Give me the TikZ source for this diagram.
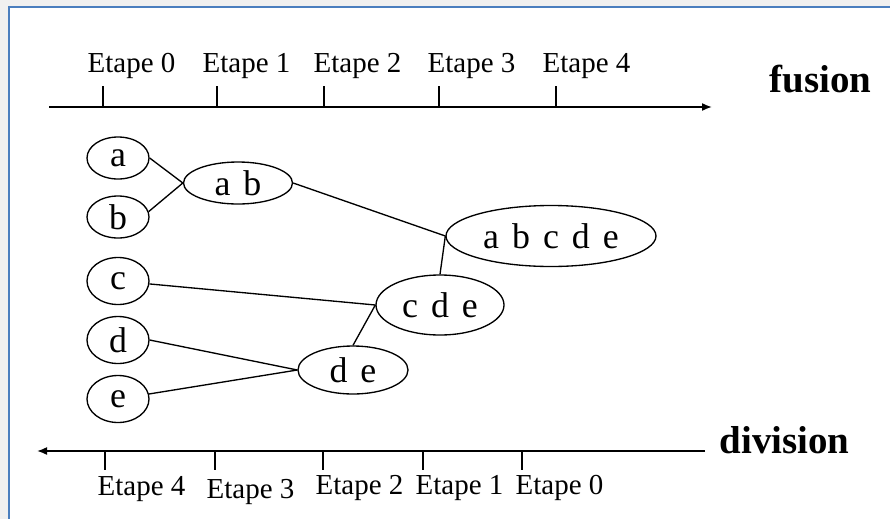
\documentclass[tikz,border=0pt]{standalone}
\usepackage{fontspec}
\setmainfont{Liberation Serif}
\newfontfamily\bullefont[WordSpace=1.45]{Liberation Serif}
\newcommand{\etapefont}{\fontsize{20.6}{24}\selectfont}
\newcommand{\sensfont}{\fontsize{27.7}{32}\selectfont\bfseries}
\usepackage{tikz}
\usetikzlibrary{arrows.meta,shapes.geometric}

\definecolor{cadre}{RGB}{74,126,190}
\definecolor{ombre}{RGB}{240,240,240}

\tikzset{
  bulle/.style={ellipse, draw, inner sep=0pt, font=\bullefont\fontsize{25.5}{30}\selectfont},
  feuille/.style={bulle, minimum width=15.5mm, minimum height=10.5mm},
  etape/.style={inner sep=0pt, font=\etapefont},
  sens/.style={inner sep=0pt, font=\sensfont},
  fleche/.style={line width=1.1pt, -{Latex[length=2.5mm,width=2mm]}}
}

\begin{document}
\begin{tikzpicture}[x=0.25mm, y=-0.25mm, line width=0.95pt]
\useasboundingbox (0,0) rectangle (890,519);
% cadre
\fill[ombre] (0,0) rectangle (890,519);
\fill[white] (9,7) rectangle (890,519);
\draw[cadre, line width=1.4pt] (9,519) -- (9,7) -- (890,7);

% axe du haut
\coordinate (f0) at (49,107);
\coordinate (f1) at (712,107);
\draw[fleche] (f0) -- (f1);
\foreach \x/\lx [count=\i from 0] in {103/87, 217/202, 324/313, 439/427, 556/542} {
  \draw (\x,86) -- (\x,107);
  \node[etape, anchor=base west] (h\i) at (\lx,72) {Etape \i};
}
\node[sens, anchor=base west] (fusion) at (769,92) {fusion};

% axe du bas
\coordinate (d0) at (705,451);
\coordinate (d1) at (37,451);
\draw[fleche] (d0) -- (d1);
\foreach \x/\lx/\by [count=\i from 0] in {522/515/494, 423/415/494, 323/315/494, 215/206/498, 105/97/495} {
  \draw (\x,451) -- (\x,470);
  \node[etape, anchor=base west] (b\i) at (\lx,\by) {Etape \i};
}
\node[sens, anchor=base west] (division) at (719,453) {division};

% elements
\node[feuille] (a) at (118,158) {a};
\node[feuille] (b) at (118,217) {b};
\node[feuille, minimum height=11.75mm] (c) at (118,281) {c};
\node[feuille, minimum height=11.75mm] (d) at (118,340) {d};
\node[feuille, minimum height=11.75mm] (e) at (118,399) {e};

% regroupements
\node[bulle, minimum width=27.25mm, minimum height=10.5mm] (ab) at (238,183) {a b};
\node[bulle, minimum width=27.5mm, minimum height=12mm] (de) at (353,370) {d e};
\node[bulle, minimum width=32mm, minimum height=15mm] (cde) at (440,305) {c d e};
\node[bulle, minimum width=52.5mm, minimum height=15.25mm] (abcde) at (551,236) {a b c d e};

\draw (a.east) -- (ab.west);
\draw (b.10) -- (ab.west);
\draw (ab.east) -- (abcde.west);
\draw (c) -- (cde.west);
\draw (d.east) -- (de.west);
\draw (e) -- (de.west);
\draw (de.north) -- (cde.west);
\draw (cde.north) -- (abcde.west);
\end{tikzpicture}
\end{document}
